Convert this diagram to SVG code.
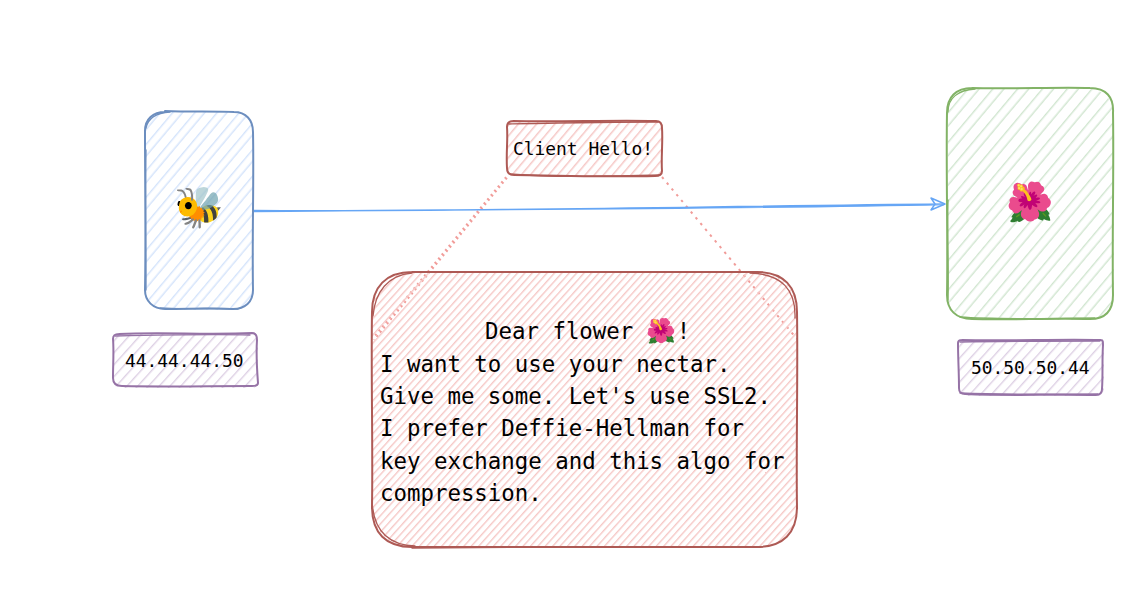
<svg xmlns="http://www.w3.org/2000/svg" width="1148" height="596" viewBox="0 0 1148 596">
<style>
text{font-family:"DejaVu Sans Mono","Liberation Mono",monospace;fill:#000}
.s{font-size:17.9px}
.b{font-size:22.4px}
.e{font-family:"Noto Color Emoji","Noto Sans","DejaVu Sans",sans-serif}
.o{fill:none;stroke-width:2;stroke-linecap:round;stroke-linejoin:round}
.t{stroke-width:1.3}
.blue{stroke:#6c8ebf}.green{stroke:#82b366}.red{stroke:#ae5a55}.purple{stroke:#9673a6}
</style>
<defs>
<pattern id="hb" width="17" height="17" patternUnits="userSpaceOnUse" patternTransform="rotate(-50)"><rect width="17" height="1.4" fill="#d3e3fb"/><rect y="7.500" width="17" height="1.4" fill="#d3e3fb"/></pattern>
<pattern id="hg" width="19" height="19" patternUnits="userSpaceOnUse" patternTransform="rotate(-50)"><rect width="19" height="1.4" fill="#d0e5cf"/><rect y="8.500" width="19" height="1.4" fill="#d0e5cf"/></pattern>
<pattern id="hr" width="5.500" height="5.500" patternUnits="userSpaceOnUse" patternTransform="rotate(-48)"><rect width="5.500" height="1.4" fill="#f6c8c6"/></pattern>
<pattern id="hrs" width="7" height="7" patternUnits="userSpaceOnUse" patternTransform="rotate(-50)"><rect width="7" height="1.5" fill="#f6c8c6"/></pattern>
<pattern id="hp" width="8" height="8" patternUnits="userSpaceOnUse" patternTransform="rotate(-48)"><rect width="8" height="1.4" fill="#ddd0e4"/></pattern>
</defs>
<g id="connectors" fill="none">
<path d="M506 177 L373 338 M507 178 L374 340" stroke="#f19c99" stroke-width="1.8" stroke-dasharray="2 3.5"/>
<path d="M662 177 L797 339" stroke="#f19c99" stroke-width="2" stroke-dasharray="2.500 5"/>
<path d="M254 210.500 C480 212 720 206 945 204 M254 211.500 C500 209 740 209 944 204.500" stroke="#66a6f5" stroke-width="1.500"/>
<path d="M945 204 L931 198 L935 204 L931 210 Z" stroke="#66a6f5" stroke-width="1.500" stroke-linejoin="round"/>
</g>
<g id="bee">
<rect x="146" y="112" width="108" height="198" rx="20" fill="url(#hb)"/>
<path class="o blue" d="M165 111 C190 112 215 111 234 112 C246 112 253 120 253 132 C254 180 252 240 253 290 C253 302 245 309 233 309 C205 308 190 309 165 309 C153 309 145 301 145 290 C146 240 145 180 145 131 C145 119 153 112 165 112"/>
<path class="o blue t" d="M146 128 C148 118 156 113 170 112 M146 150 C145 200 146 250 146 290 M160 308 C190 310 220 307 238 309"/>
<text class="e" x="199" y="221" font-size="40" text-anchor="middle">🐝</text>
</g>
<g id="bee-ip">
<rect x="114" y="334" width="144" height="54" rx="6" fill="url(#hp)"/>
<path class="o purple" d="M119 334 C160 332 210 335 252 333 C256 333 257 336 257 340 C256 355 257 370 258 383 C258 386 255 386 252 386 C210 386 165 387 122 386 C116 386 113 383 113 378 C113 365 114 350 113 339 C113 335 115 334 119 334"/>
<path class="o purple t" d="M115 336 C160 335 210 334 250 335"/>
<text class="s" x="125" y="367">44.44.44.50</text>
</g>
<g id="client-hello">
<rect x="507" y="121" width="155" height="55" rx="6" fill="url(#hrs)"/>
<path class="o red" d="M513 121 C560 122 610 120 656 121 C660 121 662 124 662 128 C663 142 661 158 662 171 C662 175 659 176 655 176 C610 177 560 176 514 175 C509 175 507 172 507 168 C506 153 508 140 507 127 C507 123 509 121 513 121"/>
<path class="o red t" d="M509 124 C560 123 610 122 658 122 M510 174 C560 178 610 176 660 175"/>
<text class="s" x="513" y="154.500">Client Hello!</text>
</g>
<g id="message">
<rect x="372" y="272" width="426" height="276" rx="40" fill="url(#hr)"/>
<path class="o red" d="M412 272 C520 271 660 273 757 272 C784 272 797 287 797 312 C798 380 796 450 797 507 C797 533 783 547 757 547 C660 546 520 548 412 547 C386 547 372 533 372 507 C373 440 371 380 372 312 C372 287 386 272 412 272"/>
<path class="o red t" d="M373 316 C375 292 388 275 412 273 M750 273 C782 274 796 290 795 318 M372 500 C373 530 388 545 415 546 M412 548 C520 547 660 547 750 547"/>
<text class="b" x="485" y="339">Dear flower <tspan class="e" font-size="24">🌺</tspan>!</text>
<text class="b" x="380" y="371.500">I want to use your nectar.</text>
<text class="b" x="380" y="404">Give me some. Let's use SSL2.</text>
<text class="b" x="380" y="436">I prefer Deffie-Hellman for</text>
<text class="b" x="380" y="468.500">key exchange and this algo for</text>
<text class="b" x="380" y="501">compression.</text>
</g>
<g id="flower">
<rect x="948" y="89" width="166" height="231" rx="25" fill="url(#hg)"/>
<path class="o green" d="M972 88 C1010 89 1060 87 1090 88 C1106 88 1114 97 1113 113 C1114 170 1112 240 1113 295 C1113 311 1105 319 1090 319 C1050 318 1010 320 972 319 C956 319 947 310 947 295 C948 240 946 170 947 113 C947 97 956 88 972 88"/>
<path class="o green t" d="M948 112 C948 98 958 90 975 89 M948 200 C947 240 949 270 948 300 M960 317 C1000 320 1060 318 1095 318"/>
<text class="e" x="1030" y="215" font-size="38" text-anchor="middle">🌺</text>
</g>
<g id="flower-ip">
<rect x="959" y="341" width="145" height="55" rx="6" fill="url(#hp)"/>
<path class="o purple" d="M962 340 C1010 341 1060 339 1101 340 C1103 340 1103 342 1103 345 C1102 360 1103 375 1102 389 C1102 393 1100 395 1096 395 C1050 394 1010 396 965 394 C960 394 959 392 959 388 C959 373 958 358 958 343 C958 341 960 340 962 340"/>
<path class="o purple t" d="M960 342 C1010 341 1060 341 1100 341 M960 393 C1010 395 1060 394 1098 394"/>
<text class="s" x="971" y="374">50.50.50.44</text>
</g>
</svg>
